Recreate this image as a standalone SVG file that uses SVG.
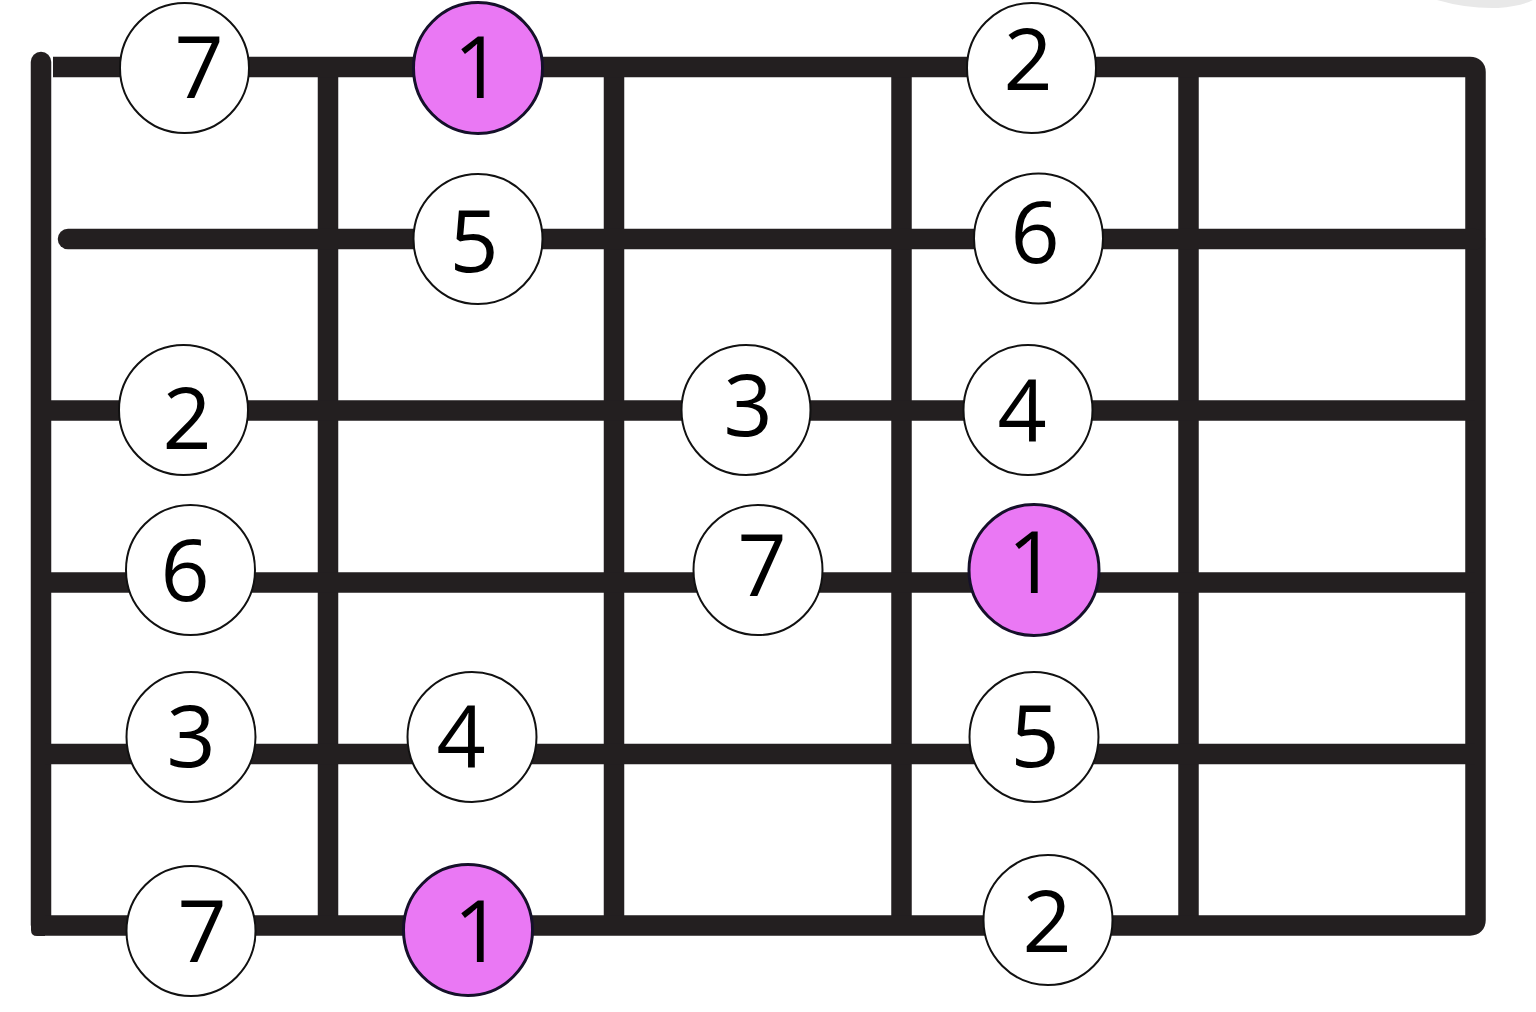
<svg xmlns="http://www.w3.org/2000/svg" width="1536" height="1012" viewBox="0 0 1536 1012">
<style>
.ln{stroke:#231F20;stroke-width:20.5;fill:none}
.w{fill:#FFFFFF;stroke:#111111;stroke-width:2}
.p{fill:#EA78F4;stroke:#15102A;stroke-width:3}
.t{font-family:"Open Sans","Liberation Sans",sans-serif;font-size:86px;fill:#000000;text-anchor:middle}
</style>
<rect width="1536" height="1012" fill="#FFFFFF"/>
<path d="M1437,0 Q1468,9 1498,8 Q1522,6 1533,0 Z" fill="#E8E8E8"/>
<g id="fretboard">
  <line class="ln" x1="41" y1="62" x2="41" y2="925" stroke-linecap="round"/>
  <line class="ln" x1="328" y1="67" x2="328" y2="925"/>
  <line class="ln" x1="614" y1="67" x2="614" y2="925"/>
  <line class="ln" x1="901.5" y1="67" x2="901.5" y2="925"/>
  <line class="ln" x1="1188.5" y1="67" x2="1188.5" y2="925"/>
  <path class="ln" d="M53,67 L1470,67 Q1475.5,67 1475.5,72 L1475.5,920 Q1475.5,925.5 1470,925.5 L41,925.5" stroke-linejoin="round"/>
  <path d="M31,915 L31,930 Q31,936 37,936 L45,936 L45,915 Z" fill="#231F20"/>
  <line class="ln" x1="68" y1="239" x2="1475" y2="239" stroke-linecap="round"/>
  <line class="ln" x1="50" y1="410.5" x2="1475" y2="410.5"/>
  <line class="ln" x1="50" y1="582.5" x2="1475" y2="582.5"/>
  <line class="ln" x1="45" y1="754" x2="1475" y2="754"/>
</g>
<g id="n1"><ellipse class="w" cx="184.5" cy="68" rx="64.5" ry="65"/><text class="t" x="199" y="98">7</text></g>
<g id="n2"><ellipse class="p" cx="478" cy="68" rx="64.5" ry="65.5"/><text class="t" x="478" y="98">1</text></g>
<g id="n3"><ellipse class="w" cx="1031.5" cy="68" rx="64.5" ry="65"/><text class="t" x="1028" y="90">2</text></g>
<g id="n4"><ellipse class="w" cx="478" cy="239" rx="64.5" ry="65"/><text class="t" x="474" y="272">5</text></g>
<g id="n5"><ellipse class="w" cx="1038.5" cy="238.5" rx="64.5" ry="65"/><text class="t" x="1035" y="263">6</text></g>
<g id="n6"><ellipse class="w" cx="183.5" cy="410" rx="64.5" ry="65"/><text class="t" x="187" y="449">2</text></g>
<g id="n7"><ellipse class="w" cx="746" cy="410" rx="64.5" ry="65"/><text class="t" x="748" y="436">3</text></g>
<g id="n8"><ellipse class="w" cx="1028" cy="410" rx="64.5" ry="65"/><text class="t" x="1022" y="441">4</text></g>
<g id="n9"><ellipse class="w" cx="190.5" cy="570" rx="64.5" ry="65"/><text class="t" x="185" y="601">6</text></g>
<g id="n10"><ellipse class="w" cx="758" cy="570" rx="64.5" ry="65"/><text class="t" x="762" y="596">7</text></g>
<g id="n11"><ellipse class="p" cx="1034" cy="570" rx="65" ry="65.5"/><text class="t" x="1032" y="593">1</text></g>
<g id="n12"><ellipse class="w" cx="191" cy="737" rx="64.5" ry="65"/><text class="t" x="191" y="767">3</text></g>
<g id="n13"><ellipse class="w" cx="472" cy="737" rx="64.5" ry="65"/><text class="t" x="461" y="767">4</text></g>
<g id="n14"><ellipse class="w" cx="1034" cy="737" rx="64.5" ry="65"/><text class="t" x="1035" y="767">5</text></g>
<g id="n15"><ellipse class="w" cx="191" cy="931" rx="64.5" ry="65"/><text class="t" x="202" y="962">7</text></g>
<g id="n16"><ellipse class="p" cx="468" cy="930" rx="64.5" ry="65.5"/><text class="t" x="478" y="962">1</text></g>
<g id="n17"><ellipse class="w" cx="1048" cy="920" rx="64.5" ry="65"/><text class="t" x="1047" y="952">2</text></g>
</svg>
